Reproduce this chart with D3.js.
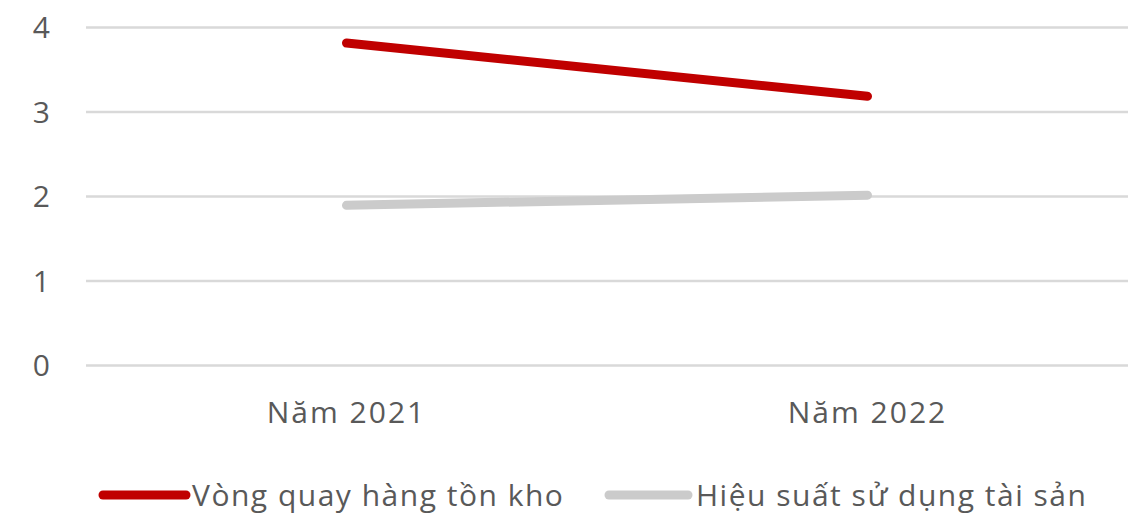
<!DOCTYPE html>
<html><head><meta charset="utf-8">
<script src="https://cdn.jsdelivr.net/npm/d3@7"></script>
<style>body{margin:0;background:#fff}svg{display:block}</style>
</head><body>
<svg id="c" width="1128" height="514"></svg>
<script>
const categories = ["Năm 2021", "Năm 2022"];
const seriesNames = ["Vòng quay hàng tồn kho", "Hiệu suất sử dụng tài sản"];
const inventoryTurnover = [3.81, 3.18];
const assetEfficiency = [1.89, 2.01];
const yTicks = [0, 1, 2, 3, 4];
const colors = ["#C00000", "#CBCBCB"];

const series = [
  {name: seriesNames[0], values: inventoryTurnover, color: colors[0]},
  {name: seriesNames[1], values: assetEfficiency, color: colors[1]}
];

const svg = d3.select("#c");
const font = "'Open Sans', sans-serif";
const textColor = "#595959";
const ls = "1.5px";

const x = d3.scaleBand().domain(categories).range([86, 1128]);
const y = d3.scaleLinear().domain([0, 4]).range([365, 27]);

// gridlines
const yAxis = d3.axisLeft(y).tickValues(yTicks).tickSize(-(1128 - 86)).tickPadding(36).tickFormat(d3.format("d"));
const gy = svg.append("g").attr("transform", "translate(86,0)").call(yAxis);
gy.select(".domain").remove();
gy.selectAll(".tick line").attr("stroke", "#D9D9D9").attr("stroke-width", 2.5);
gy.selectAll(".tick text").attr("fill", textColor).style("font-family", font).style("font-size", "30px").attr("dy", "0.35em");

// x axis labels
const xAxis = d3.axisBottom(x).tickSize(0).tickPadding(0);
const gx = svg.append("g").attr("transform", "translate(0,365)").call(xAxis);
gx.select(".domain").remove();
gx.selectAll(".tick text").attr("fill", textColor).style("font-family", font).style("font-size", "30px")
  .style("letter-spacing", "2px").attr("dy", "0").attr("y", 58);

// lines
const line = d3.line().x((d, i) => x(categories[i]) + x.bandwidth() / 2).y(d => y(d));
svg.selectAll("path.series").data(series).enter().append("path")
  .attr("class", "series")
  .attr("d", d => line(d.values))
  .attr("fill", "none").attr("stroke", d => d.color)
  .attr("stroke-width", 9).attr("stroke-linecap", "round");

// legend
const legendItems = [
  {x0: 103, x1: 186, tx: 192},
  {x0: 609, x1: 688, tx: 696}
];
const lg = svg.append("g");
series.forEach((s, i) => {
  const p = legendItems[i];
  lg.append("line").attr("x1", p.x0).attr("x2", p.x1).attr("y1", 495).attr("y2", 495)
    .attr("stroke", s.color).attr("stroke-width", 9).attr("stroke-linecap", "round");
  lg.append("text").attr("x", p.tx).attr("y", 495).attr("dy", "0.35em")
    .attr("fill", textColor).style("font-family", font).style("font-size", "30px")
    .style("letter-spacing", ls).text(s.name);
});
</script>
</body></html>
